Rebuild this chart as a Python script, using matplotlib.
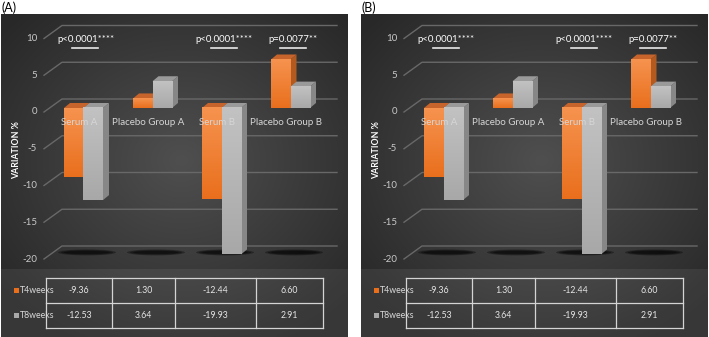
# encoding:utf-8
# variation % chart (Excel style 3D clustered bars + data table), two panels

import numpy as np
import matplotlib
matplotlib.use('Agg')
import matplotlib.pyplot as plt
from matplotlib.patches import Polygon, Rectangle, Ellipse
from matplotlib.colors import to_rgb

plt.rcParams['font.family'] = ['Lato', 'DejaVu Sans']

groups = ['Serum A', 'Placebo Group A', 'Serum B', 'Placebo Group B']
t4weeks = [-9.36, 1.30, -12.44, 6.60]
t8weeks = [-12.53, 3.64, -19.93, 2.91]
series_names = ['T4weeks', 'T8weeks']
p_labels = ['p<0.0001****', '', 'p<0.0001****', 'p=0.0077**']
y_ticks = [10, 5, 0, -5, -10, -15, -20]
panel_names = ['(A)', '(B)']

W, H = 709, 337

# layout, in pixels of the picture (panel A; panel B is shifted)
PANEL_SHIFT = 360
PANEL_LEFT = 1
PANEL_W = 347
PANEL_TOP = 14
BAND_TOP = 269
ZERO_Y = 108
PX_PER_UNIT = 7.35
CAT0_X = 83.5
PX_PER_CAT = 69
BAR_W = 19.5
DEPTH_X = 6
DEPTH_Y = 5
TABLE_COLS = [46, 112, 175, 256, 323]
TABLE_ROWS = [278, 303, 328]

ORANGE = dict(top_grad='#f6934f', bot_grad='#e96f1d', top='#c7642b', side='#b35a20')
GREY = dict(top_grad='#c2c2c2', bot_grad='#a8a8a8', top='#9a9a9a', side='#878787')


def gradient(c1, c2, n=64):
    a = np.array(to_rgb(c1))
    b = np.array(to_rgb(c2))
    t = np.linspace(0, 1, n)[:, None]
    return (a * (1 - t) + b * t)[:, None, :]


def draw_bar(ax, x0, value, w, dx, dy, style, z):
    top = max(value, 0)
    bot = min(value, 0)
    ax.add_patch(Polygon([(x0 + w, bot), (x0 + w + dx, bot + dy), (x0 + w + dx, top + dy), (x0 + w, top)],
                         closed=True, fc=style['side'], ec='none', zorder=z))
    ax.add_patch(Polygon([(x0, top), (x0 + dx, top + dy), (x0 + w + dx, top + dy), (x0 + w, top)],
                         closed=True, fc=style['top'], ec='none', zorder=z))
    ax.imshow(gradient(style['top_grad'], style['bot_grad']), extent=(x0, x0 + w, bot, top),
              aspect='auto', origin='upper', interpolation='bilinear', zorder=z + 0.1)


def draw_panel(fig, ox, name):
    left = ox + PANEL_LEFT
    rect = [left / W, 0, PANEL_W / W, (H - PANEL_TOP) / H]

    # background axes, in picture pixels
    bg = fig.add_axes(rect)
    bg.set_axis_off()
    yy, xx = np.mgrid[PANEL_TOP:H, 0:PANEL_W]
    d = np.sqrt(((xx - 180) / 230.0) ** 2 + ((yy - 160) / 200.0) ** 2)
    shade = 0.31 - 0.15 * np.clip(d, 0, 1)
    bg.imshow(np.dstack([shade] * 3), extent=(left, left + PANEL_W, H, PANEL_TOP),
              aspect='auto', interpolation='bilinear', zorder=0)
    bg.add_patch(Rectangle((left, BAND_TOP), PANEL_W, H - BAND_TOP, fc='white', alpha=0.07, ec='none', zorder=1))

    # data table
    tcols = [ox + c for c in TABLE_COLS]
    for c in tcols:
        bg.plot([c, c], [TABLE_ROWS[0], TABLE_ROWS[-1]], color='#d4d4d4', lw=0.9, zorder=2)
    for r in TABLE_ROWS:
        bg.plot([tcols[0], tcols[-1]], [r, r], color='#d4d4d4', lw=0.9, zorder=2)
    for row, (values, sname, style) in enumerate(zip([t4weeks, t8weeks], series_names, [ORANGE, GREY])):
        ymid = (TABLE_ROWS[row] + TABLE_ROWS[row + 1]) / 2
        for k, v in enumerate(values):
            bg.text((tcols[k] + tcols[k + 1]) / 2, ymid, f'{v:.2f}', color='#e6e6e6', fontsize=6.3,
                    ha='center', va='center', zorder=3)
        bg.add_patch(Rectangle((ox + 14.5, ymid - 2.5), 4.5, 4.5, fc=style['bot_grad'], ec='none', zorder=3))
        bg.text(ox + 19.5, ymid, sname, color='#d9d9d9', fontsize=6.3, ha='left', va='center', zorder=3)

    bg.text(ox + 17, 150, 'VARIATION %', rotation=90, color='white', fontsize=6.3, fontweight='bold',
            ha='center', va='center', zorder=3)
    bg.set_xlim(left, left + PANEL_W)
    bg.set_ylim(H, PANEL_TOP)

    # chart axes, in data units
    ax = fig.add_axes(rect)
    ax.set_axis_off()
    ax.patch.set_alpha(0)
    def cx(px):
        return (px - CAT0_X) / PX_PER_CAT
    def vy(py):
        return (ZERO_Y - py) / PX_PER_UNIT
    back = DEPTH_Y * 1.8 / PX_PER_UNIT
    front = 4 / PX_PER_UNIT
    for v in y_ticks:
        ax.plot([cx(44), cx(62), cx(337)], [v - front, v + back, v + back], color='#686868', lw=1.0, zorder=1)
        ax.text(cx(37), v - front, str(v), color='#c8c8c8', fontsize=7, ha='right', va='center', zorder=2)

    w = BAR_W / PX_PER_CAT
    dx = DEPTH_X / PX_PER_CAT
    dy = DEPTH_Y / PX_PER_UNIT
    floor = min(y_ticks)
    for i, (a, b) in enumerate(zip(t4weeks, t8weeks)):
        # blurred floor shadow
        for s in range(3):
            ax.add_patch(Ellipse((i + 3.5 / PX_PER_CAT, floor + 0.35), (58 - 6 * s) / PX_PER_CAT,
                                 (6 - 1.5 * s) / PX_PER_UNIT, fc='black', alpha=0.33, ec='none', zorder=1.5))
        draw_bar(ax, i - w, a, w, dx, dy, ORANGE, 3)
        draw_bar(ax, i, b, w, dx, dy, GREY, 4)
        ax.text(i - 4.5 / PX_PER_CAT, vy(123), groups[i], color='#d6d6d6', fontsize=7.0,
                ha='center', va='center', zorder=6)
        if p_labels[i]:
            xc = i + 2 / PX_PER_CAT
            ax.text(xc, vy(40), p_labels[i], color='white', fontsize=6.9, ha='center', va='center', zorder=6)
            ax.plot([xc - 13 / PX_PER_CAT, xc + 13 / PX_PER_CAT], [vy(48), vy(48)], color='#e8e8e8', lw=1.2, zorder=6)

    ax.set_xlim(cx(PANEL_LEFT), cx(PANEL_LEFT + PANEL_W))
    ax.set_ylim(vy(H), vy(PANEL_TOP))

    fig.text(left / W, 1 - 1 / H, name, color='black', fontsize=9, ha='left', va='top')


fig = plt.figure(figsize=(W / 100, H / 100), dpi=100)
fig.patch.set_facecolor('white')
for k, name in enumerate(panel_names):
    draw_panel(fig, k * PANEL_SHIFT, name)
fig.savefig('out.png', dpi=100)
